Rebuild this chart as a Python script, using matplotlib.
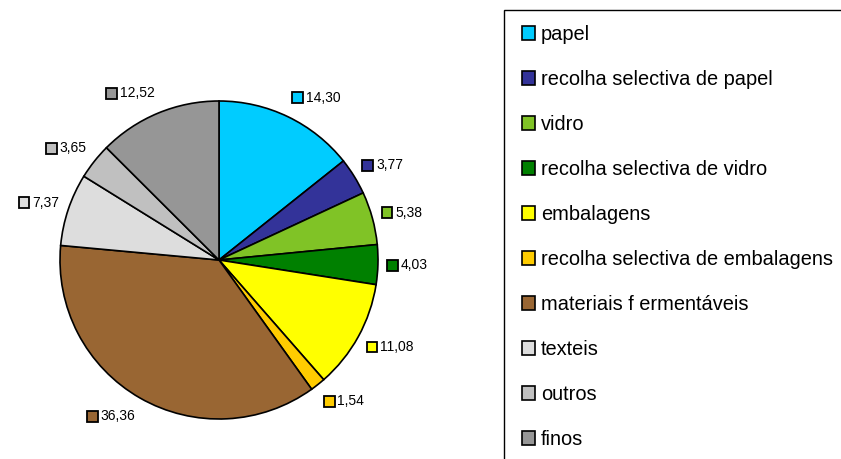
import matplotlib
matplotlib.use('Agg')
import matplotlib.pyplot as plt
from matplotlib.patches import Rectangle
from matplotlib.offsetbox import DrawingArea, TextArea, HPacker, AnnotationBbox
import numpy as np

categories = ["papel", "recolha selectiva de papel", "vidro", "recolha selectiva de vidro",
              "embalagens", "recolha selectiva de embalagens", "materiais f ermentáveis",
              "texteis", "outros", "finos"]
values = [14.30, 3.77, 5.38, 4.03, 11.08, 1.54, 36.36, 7.37, 3.65, 12.52]
colors = ["#00CCFF", "#333399", "#80C326", "#008000", "#FFFF00", "#FFCC00",
          "#996633", "#DDDDDD", "#C0C0C0", "#969696"]

plt.rcParams['font.family'] = ['Liberation Sans', 'DejaVu Sans']

W, H = 841, 459
fig = plt.figure(figsize=(W / 100, H / 100), dpi=100)
cx, cy, R = 219, 459 - 260, 159
ax = fig.add_axes([(cx - R) / W, (cy - R) / H, 2 * R / W, 2 * R / H])
wedges, _ = ax.pie(values, colors=colors, startangle=90, counterclock=False, radius=1,
                   wedgeprops=dict(edgecolor='black', linewidth=1.2))
ax.set_xlim(-1, 1)
ax.set_ylim(-1, 1)
ax.set_aspect('equal')

for w, v, c in zip(wedges, values, colors):
    ang = np.deg2rad((w.theta1 + w.theta2) / 2)
    ca, sa = np.cos(ang), np.sin(ang)
    x, y = 1.06 * ca, 1.09 * sa
    da = DrawingArea(7.8, 7.8, 0, 0)
    da.add_artist(Rectangle((0, 0), 7.8, 7.8, facecolor=c, edgecolor='black', linewidth=1.3))
    ta = TextArea(f"{v:.2f}".replace('.', ','), textprops=dict(fontsize=10))
    box = HPacker(children=[da, ta], align='center', pad=0, sep=2)
    ab = AnnotationBbox(box, (x, y), xycoords='data',
                        box_alignment=(0 if ca >= 0 else 1, 0.5 - 0.5 * sa),
                        frameon=False, pad=0, annotation_clip=False)
    ax.add_artist(ab)

leg = fig.legend(wedges, categories, loc='upper left', bbox_to_anchor=(522 / W, 1 - 25 / H),
                 frameon=False, fontsize=14.4, handlelength=0.65, handleheight=0.65,
                 handletextpad=0.3, labelspacing=1.3, borderpad=0, borderaxespad=0)

fig.add_artist(Rectangle((504 / W, -0.1), 1, 1 - 10 / H + 0.1, transform=fig.transFigure,
                         fill=False, edgecolor='black', linewidth=1))

fig.savefig('out.png', dpi=100)
